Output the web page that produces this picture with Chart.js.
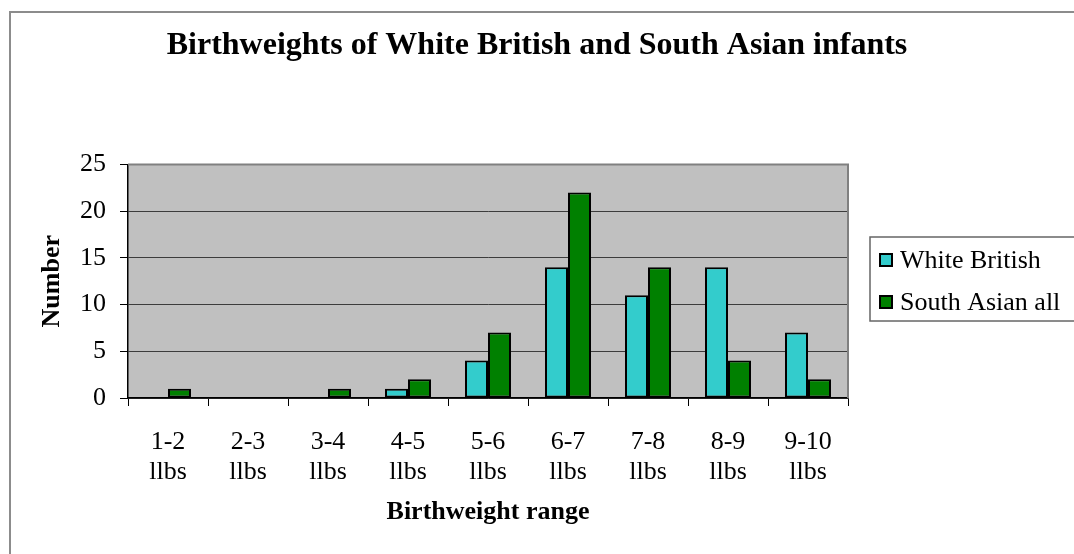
<!DOCTYPE html>
<html>
<head>
<meta charset="utf-8">
<script src="https://cdn.jsdelivr.net/npm/chart.js@4.4.1/dist/chart.umd.min.js"></script>
<style>
  html, body { margin: 0; padding: 0; background: #fff; }
  #wrap { position: relative; width: 1074px; height: 554px; }
</style>
</head>
<body>
<div id="wrap"><canvas id="chart"></canvas></div>
<script>
// ---- data ----
const rangeLabels = [
  ['1-2', 'llbs'], ['2-3', 'llbs'], ['3-4', 'llbs'], ['4-5', 'llbs'], ['5-6', 'llbs'],
  ['6-7', 'llbs'], ['7-8', 'llbs'], ['8-9', 'llbs'], ['9-10', 'llbs']
];
const whiteBritish = [0, 0, 0, 1, 4, 14, 11, 14, 7];
const southAsianAll = [1, 0, 1, 2, 7, 22, 14, 4, 2];
const seriesNames = ['White British', 'South Asian all'];
const yTicks = [0, 5, 10, 15, 20, 25];

const SERIF = '"Liberation Serif", "Times New Roman", serif';

// grey plot background + outer frame
const framePlugin = {
  id: 'frame',
  beforeDraw(chart) {
    const { ctx, chartArea: a } = chart;
    ctx.save();
    ctx.fillStyle = '#ffffff';
    ctx.fillRect(0, 0, chart.width, chart.height);
    ctx.strokeStyle = '#8c8c8c';
    ctx.lineWidth = 2;
    ctx.strokeRect(10, 12, chart.width + 20, chart.height + 20);
    ctx.fillStyle = '#c0c0c0';
    ctx.fillRect(a.left, a.top, a.right - a.left, a.bottom - a.top);
    ctx.restore();
  },
  afterDatasetsDraw(chart) {
    const { ctx, chartArea: a } = chart;
    ctx.save();
    ctx.strokeStyle = '#808080';
    ctx.lineWidth = 2;
    ctx.beginPath();
    ctx.moveTo(a.left, a.top);
    ctx.lineTo(a.right, a.top);
    ctx.lineTo(a.right, a.bottom);
    ctx.stroke();
    ctx.restore();
  }
};

// boxed legend on the right
const boxLegend = {
  id: 'boxLegend',
  afterDraw(chart) {
    const { ctx } = chart;
    const x0 = 870, y0 = 237, rowH = 42;
    ctx.save();
    ctx.strokeStyle = '#666';
    ctx.lineWidth = 1.5;
    ctx.strokeRect(x0, y0, chart.width, 84);
    ctx.font = '26px ' + SERIF;
    ctx.textBaseline = 'middle';
    chart.data.datasets.forEach((ds, i) => {
      const cy = y0 + 23 + i * rowH;
      ctx.fillStyle = ds.backgroundColor;
      ctx.fillRect(880, cy - 6, 12, 12);
      ctx.strokeStyle = '#000';
      ctx.lineWidth = 2;
      ctx.strokeRect(880, cy - 6, 12, 12);
      ctx.fillStyle = '#000';
      ctx.fillText(ds.label, 900, cy + 1);
    });
    ctx.restore();
  }
};

new Chart(document.getElementById('chart'), {
  type: 'bar',
  data: {
    labels: rangeLabels,
    datasets: [
      {
        label: seriesNames[0],
        data: whiteBritish,
        backgroundColor: '#33cccc',
        borderColor: '#000',
        borderWidth: 2,
        borderSkipped: false,
      },
      {
        label: seriesNames[1],
        data: southAsianAll,
        backgroundColor: '#008000',
        borderColor: '#000',
        borderWidth: 2,
        borderSkipped: false,
      },
    ],
  },
  options: {
    responsive: true,
    maintainAspectRatio: false,
    animation: false,
    categoryPercentage: 0.575,
    barPercentage: 1,
    layout: { padding: 0 },
    plugins: {
      legend: { display: false },
      tooltip: { enabled: false },
      title: {
        display: true,
        text: 'Birthweights of White British and South Asian infants',
        color: '#000',
        font: { family: SERIF, size: 32, weight: 'bold' },
        padding: { top: 27, bottom: 99 },
      },
    },
    scales: {
      x: {
        grid: {
          offset: true,
          drawOnChartArea: false,
          drawTicks: true,
          tickLength: 8,
          tickColor: '#000',
          tickWidth: 1,
        },
        border: { color: '#000', width: 1.5 },
        ticks: {
          color: '#000',
          padding: 21,
          maxRotation: 0,
          autoSkip: false,
          font: { family: SERIF, size: 26, lineHeight: 1.15 },
        },
        title: {
          display: true,
          text: 'Birthweight range',
          color: '#000',
          font: { family: SERIF, size: 26, weight: 'bold' },
          padding: { top: 0, bottom: 26 },
        },
        afterFit(scale) { scale.height = 156; },
      },
      y: {
        min: 0,
        max: 25,
        afterBuildTicks(scale) { scale.ticks = yTicks.map(v => ({ value: v })); },
        grid: {
          color: '#3c3c3c',
          lineWidth: 1,
          tickLength: 8,
          tickColor: '#000',
        },
        border: { color: '#000', width: 1.5 },
        ticks: {
          color: '#000',
          padding: 14,
          font: { family: SERIF, size: 26 },
        },
        title: {
          display: true,
          text: 'Number',
          color: '#000',
          font: { family: SERIF, size: 26, weight: 'bold' },
          padding: { top: 37, bottom: 0 },
        },
        afterFit(scale) { scale.width = 128; },
      },
      // empty right-hand strip that holds the legend
      legendSpace: {
        type: 'linear',
        position: 'right',
        display: true,
        grid: { display: false, drawTicks: false },
        border: { display: false },
        ticks: { display: false },
        afterFit(scale) { scale.width = 226; },
      },
    },
  },
  plugins: [framePlugin, boxLegend],
});
</script>
</body>
</html>
